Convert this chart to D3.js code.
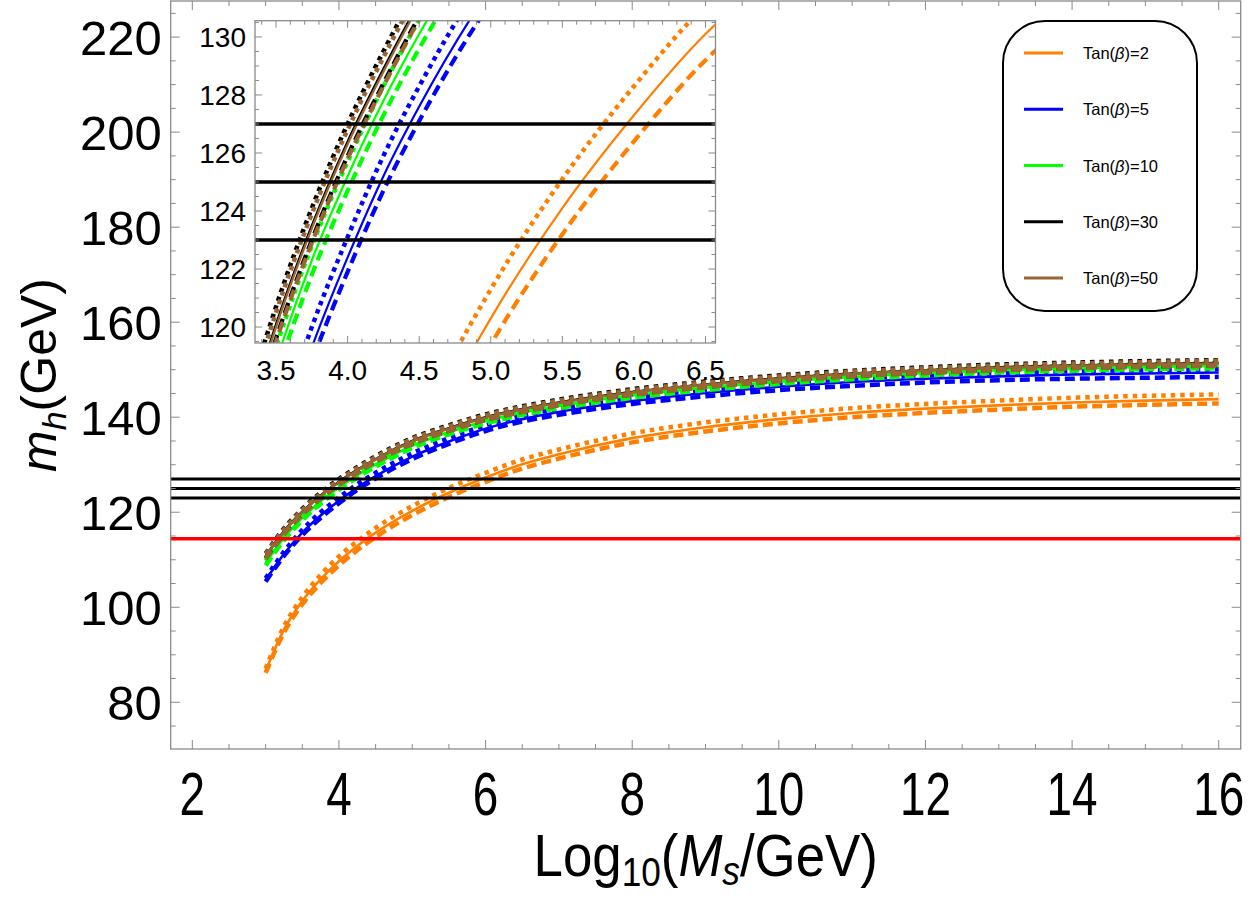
<!DOCTYPE html>
<html>
<head>
<meta charset="utf-8">
<script src="https://cdn.jsdelivr.net/npm/d3@7"></script>
<style>
    body { margin: 0; background: #ffffff; }
    text { font-family: "Liberation Sans", Arial, sans-serif; fill: #000; }
</style>
</head>
<body>
<div id="chart"></div>
<script>
// Log10(Ms/GeV) sample points
const logMs = [3, 3.25, 3.5, 3.75, 4, 4.25, 4.5, 5, 5.5, 6, 6.5, 7, 8, 9, 10, 11, 12, 13, 14, 15, 16];

// m_h (GeV) for each tan(beta): solid / dashed / dotted
const tb2Solid  = [86.6, 95.3, 101.3, 105.9, 109.7, 112.9, 115.7, 120.3, 124.1, 127.3, 130.1, 132.2, 135.6, 137.9, 139.6, 140.9, 141.8, 142.5, 143.1, 143.5, 143.8];
const tb2Dashed = [86.2, 94.7, 100.6, 105.1, 108.8, 112.0, 114.8, 119.4, 123.2, 126.4, 129.2, 131.3, 134.7, 137.0, 138.7, 140.0, 140.9, 141.6, 142.2, 142.6, 142.9];
const tb2Dotted = [87.1, 96.0, 102.1, 106.8, 110.7, 113.9, 116.7, 121.3, 125.1, 128.3, 131.1, 133.2, 136.6, 138.9, 140.6, 141.9, 142.8, 143.5, 144.1, 144.5, 144.8];

const tb5Solid  = [105.7, 111.2, 115.7, 119.3, 122.4, 125.2, 127.6, 131.7, 134.9, 137.6, 139.6, 141.1, 143.4, 145.1, 146.4, 147.4, 148.1, 148.6, 149.0, 149.2, 149.4];
const tb5Dashed = [105.4, 110.8, 115.2, 118.8, 121.9, 124.7, 127.1, 131.2, 134.4, 137.1, 139.1, 140.5, 142.8, 144.4, 145.7, 146.6, 147.3, 147.8, 148.1, 148.3, 148.5];
const tb5Dotted = [106.1, 111.7, 116.3, 120.0, 123.1, 125.9, 128.3, 132.4, 135.6, 138.3, 140.3, 141.8, 144.1, 145.8, 147.1, 148.1, 148.8, 149.3, 149.7, 149.9, 150.1];

const tb10Solid  = [109.3, 114.6, 118.8, 122.3, 125.2, 127.8, 130.1, 134.0, 136.9, 139.2, 141.0, 142.4, 144.6, 146.2, 147.5, 148.5, 149.3, 149.9, 150.3, 150.6, 150.8];
const tb10Dashed = [108.8, 114.1, 118.3, 121.8, 124.7, 127.3, 129.6, 133.5, 136.4, 138.7, 140.5, 141.9, 144.1, 145.7, 147.0, 148.0, 148.8, 149.4, 149.8, 150.1, 150.3];
const tb10Dotted = [109.8, 115.1, 119.3, 122.8, 125.7, 128.3, 130.6, 134.5, 137.4, 139.7, 141.5, 142.9, 145.1, 146.7, 148.0, 149.0, 149.8, 150.4, 150.8, 151.1, 151.3];

const tb30Solid  = [110.8, 116.0, 120.1, 123.5, 126.4, 128.9, 131.2, 135.0, 137.7, 140.0, 141.7, 143.1, 145.3, 146.9, 148.2, 149.2, 149.9, 150.5, 150.9, 151.2, 151.4];
const tb30Dashed = [110.3, 115.5, 119.6, 123.0, 125.9, 128.4, 130.7, 134.5, 137.2, 139.5, 141.2, 142.6, 144.8, 146.4, 147.7, 148.7, 149.4, 150.0, 150.4, 150.7, 150.9];
const tb30Dotted = [111.3, 116.6, 120.7, 124.1, 127.0, 129.5, 131.8, 135.6, 138.3, 140.6, 142.3, 143.7, 145.9, 147.5, 148.8, 149.8, 150.5, 151.1, 151.5, 151.8, 152.0];

const tb50Solid  = [110.7, 115.9, 120.0, 123.4, 126.3, 128.8, 131.1, 134.9, 137.6, 139.9, 141.6, 143.0, 145.2, 146.8, 148.1, 149.1, 149.8, 150.4, 150.8, 151.1, 151.3];
const tb50Dashed = [110.2, 115.4, 119.5, 122.9, 125.8, 128.3, 130.6, 134.4, 137.1, 139.4, 141.1, 142.5, 144.7, 146.3, 147.6, 148.6, 149.3, 149.9, 150.3, 150.6, 150.8];
const tb50Dotted = [111.2, 116.4, 120.5, 123.9, 126.8, 129.3, 131.6, 135.4, 138.1, 140.4, 142.1, 143.5, 145.7, 147.3, 148.6, 149.6, 150.3, 150.9, 151.3, 151.6, 151.9];

const tanBetas = [2, 5, 10, 30, 50];
const tanBetaColors = ["#ff8000", "#0000ff", "#00ff00", "#000000", "#996633"];

// horizontal reference lines
const higgsLines = [123, 125, 127];
const lepBound = 114.4;

// tick labels
const xTicks = [2, 4, 6, 8, 10, 12, 14, 16];
const yTicks = [80, 100, 120, 140, 160, 180, 200, 220];
const insetXTicks = [3.5, 4.0, 4.5, 5.0, 5.5, 6.0, 6.5];
const insetYTicks = [120, 122, 124, 126, 128, 130];

const width = 1250;
const height = 900;
const plot = { left: 170.7, right: 1240.7, top: 1, bottom: 749 };
const inset = { left: 255, right: 715.5, top: 20.7, bottom: 343 };

const series = [
    [tb2Solid, tb2Dashed, tb2Dotted],
    [tb5Solid, tb5Dashed, tb5Dotted],
    [tb10Solid, tb10Dashed, tb10Dotted],
    [tb30Solid, tb30Dashed, tb30Dotted],
    [tb50Solid, tb50Dashed, tb50Dotted]
];
const frameColor = "#8a8a8a";

const svg = d3.select("#chart").append("svg")
    .attr("width", width)
    .attr("height", height);

svg.append("rect").attr("width", width).attr("height", height).attr("fill", "#fff");

const xScale = d3.scaleLinear().domain([1.705, 16.30]).range([plot.left, plot.right]);
const yScale = d3.scaleLinear().domain([70.17, 227.6]).range([plot.bottom, plot.top]);

const xInset = d3.scaleLinear().domain([3.353, 6.57]).range([inset.left, inset.right]);
const yInset = d3.scaleLinear().domain([119.45, 130.56]).range([inset.bottom, inset.top]);

const defs = svg.append("defs");
defs.append("clipPath").attr("id", "clip-main")
    .append("rect")
    .attr("x", plot.left).attr("y", plot.top)
    .attr("width", plot.right - plot.left).attr("height", plot.bottom - plot.top);
defs.append("clipPath").attr("id", "clip-inset")
    .append("rect")
    .attr("x", inset.left).attr("y", inset.top)
    .attr("width", inset.right - inset.left).attr("height", inset.bottom - inset.top);

function drawCurves(g, x, y, styles) {
    const line = d3.line()
        .x((d, i) => x(logMs[i]))
        .y(d => y(d))
        .curve(d3.curveMonotoneX);

    series.forEach((group, k) => {
        group.forEach((values, s) => {
            g.append("path")
                .datum(values)
                .attr("d", line)
                .attr("fill", "none")
                .attr("stroke", tanBetaColors[k])
                .attr("stroke-width", styles[s].width)
                .attr("stroke-dasharray", styles[s].dash);
        });
    });
}

function drawHLines(g, x, y, w) {
    const [x0, x1] = x.range();
    g.selectAll(null)
        .data(higgsLines)
        .enter().append("line")
        .attr("x1", x0).attr("x2", x1)
        .attr("y1", d => y(d)).attr("y2", d => y(d))
        .attr("stroke", "#000")
        .attr("stroke-width", w);
}

// frame ticks pointing inward on all four sides
function drawFrame(g, x, y, box, xMajor, xMinor, yMajor, yMinor, bigLen, smallLen) {
    const t = g.append("g").attr("stroke", frameColor).attr("stroke-width", 1);
    const addX = (vals, len) => vals.forEach(v => {
        t.append("line").attr("x1", x(v)).attr("x2", x(v)).attr("y1", box.bottom).attr("y2", box.bottom - len);
        t.append("line").attr("x1", x(v)).attr("x2", x(v)).attr("y1", box.top).attr("y2", box.top + len);
    });
    const addY = (vals, len) => vals.forEach(v => {
        t.append("line").attr("y1", y(v)).attr("y2", y(v)).attr("x1", box.left).attr("x2", box.left + len);
        t.append("line").attr("y1", y(v)).attr("y2", y(v)).attr("x1", box.right).attr("x2", box.right - len);
    });
    addX(xMajor, bigLen);
    addX(xMinor, smallLen);
    addY(yMajor, bigLen);
    addY(yMinor, smallLen);

    g.append("rect")
        .attr("x", box.left).attr("y", box.top)
        .attr("width", box.right - box.left).attr("height", box.bottom - box.top)
        .attr("fill", "none")
        .attr("stroke", frameColor)
        .attr("stroke-width", 1.3);
}

const inRange = (vals, s) => vals.filter(v => v >= s.domain()[0] && v <= s.domain()[1]);

// ---- main plot ----
const main = svg.append("g");
const mainCurves = main.append("g").attr("clip-path", "url(#clip-main)");

drawCurves(mainCurves, xScale, yScale, [
    { width: 2.6, dash: null },
    { width: 4.5, dash: "10,5" },
    { width: 4.5, dash: "4.5,5" }
]);

drawHLines(mainCurves, xScale, yScale, 3.2);

mainCurves.append("line")
    .attr("x1", plot.left).attr("x2", plot.right)
    .attr("y1", yScale(lepBound)).attr("y2", yScale(lepBound))
    .attr("stroke", "#ff0000")
    .attr("stroke-width", 3.5);

drawFrame(main, xScale, yScale, plot,
    xTicks,
    inRange(d3.range(1.5, 17, 0.5), xScale).filter(v => v % 2 !== 0),
    yTicks,
    inRange(d3.range(70, 231, 5), yScale).filter(v => v % 20 !== 0),
    9, 5);

main.append("g").selectAll("text")
    .data(xTicks)
    .enter().append("text")
    .attr("transform", d => `translate(${xScale(d)},${plot.bottom + 66}) scale(0.74,1)`)
    .attr("text-anchor", "middle")
    .style("font-size", "62px")
    .text(d => d);

main.append("g").selectAll("text")
    .data(yTicks)
    .enter().append("text")
    .attr("x", plot.left - 9)
    .attr("y", d => yScale(d) + 17.5)
    .attr("text-anchor", "end")
    .style("font-size", "49px")
    .text(d => d);

// axis labels
const xLabel = main.append("text")
    .attr("transform", `translate(${(plot.left + plot.right) / 2},${876}) scale(0.88,1)`)
    .attr("text-anchor", "middle")
    .style("font-size", "60px");
xLabel.append("tspan").text("Log");
xLabel.append("tspan").attr("dy", 10).style("font-size", "40px").text("10");
xLabel.append("tspan").attr("dy", -10).text("(");
xLabel.append("tspan").style("font-style", "italic").text("M");
xLabel.append("tspan").attr("dy", 9).style("font-size", "40px").style("font-style", "italic").text("s");
xLabel.append("tspan").attr("dy", -9).text("/GeV)");

const yLabel = main.append("text")
    .attr("transform", `translate(${56},${(plot.top + plot.bottom) / 2}) rotate(-90)`)
    .attr("text-anchor", "middle")
    .style("font-size", "50px");
yLabel.append("tspan").style("font-style", "italic").text("m");
yLabel.append("tspan").attr("dy", 10).style("font-size", "34px").style("font-style", "italic").text("h");
yLabel.append("tspan").attr("dy", -10).text("(GeV)");

// ---- inset ----
const ins = svg.append("g");
ins.append("rect")
    .attr("x", inset.left).attr("y", inset.top)
    .attr("width", inset.right - inset.left).attr("height", inset.bottom - inset.top)
    .attr("fill", "#fff");

const insetCurves = ins.append("g").attr("clip-path", "url(#clip-inset)");
drawCurves(insetCurves, xInset, yInset, [
    { width: 2.2, dash: null },
    { width: 4.2, dash: "11,6" },
    { width: 4.5, dash: "4.5,4.5" }
]);
drawHLines(insetCurves, xInset, yInset, 3.5);

drawFrame(ins, xInset, yInset, inset,
    insetXTicks,
    inRange(d3.range(3.4, 6.6, 0.1).map(v => Math.round(v * 10) / 10), xInset).filter(v => Math.round(v * 10) % 5 !== 0),
    insetYTicks,
    inRange(d3.range(119.5, 131, 0.5), yInset).filter(v => v % 2 !== 0),
    7, 4);

ins.append("g").selectAll("text")
    .data(insetXTicks)
    .enter().append("text")
    .attr("x", d => xInset(d))
    .attr("y", inset.bottom + 37)
    .attr("text-anchor", "middle")
    .style("font-size", "28px")
    .text(d => d.toFixed(1));

ins.append("g").selectAll("text")
    .data(insetYTicks)
    .enter().append("text")
    .attr("x", inset.left - 9)
    .attr("y", d => yInset(d) + 10)
    .attr("text-anchor", "end")
    .style("font-size", "28px")
    .text(d => d);

// ---- legend ----
const legend = svg.append("g").attr("class", "legend");
legend.append("rect")
    .attr("x", 1003).attr("y", 21)
    .attr("width", 194).attr("height", 290)
    .attr("rx", 42).attr("ry", 42)
    .attr("fill", "#fff")
    .attr("stroke", "#000")
    .attr("stroke-width", 2);

const legendY = d3.scalePoint().domain(tanBetas).range([53, 278]);

tanBetas.forEach((tb, i) => {
    legend.append("line")
        .attr("x1", 1024).attr("x2", 1063)
        .attr("y1", legendY(tb)).attr("y2", legendY(tb))
        .attr("stroke", tanBetaColors[i])
        .attr("stroke-width", 3);
    const t = legend.append("text")
        .attr("x", 1083)
        .attr("y", legendY(tb) + 6)
        .style("font-size", "16.5px");
    t.append("tspan").text("Tan(");
    t.append("tspan").style("font-style", "italic").text("β");
    t.append("tspan").text(")=" + tb);
});
</script>
</body>
</html>
